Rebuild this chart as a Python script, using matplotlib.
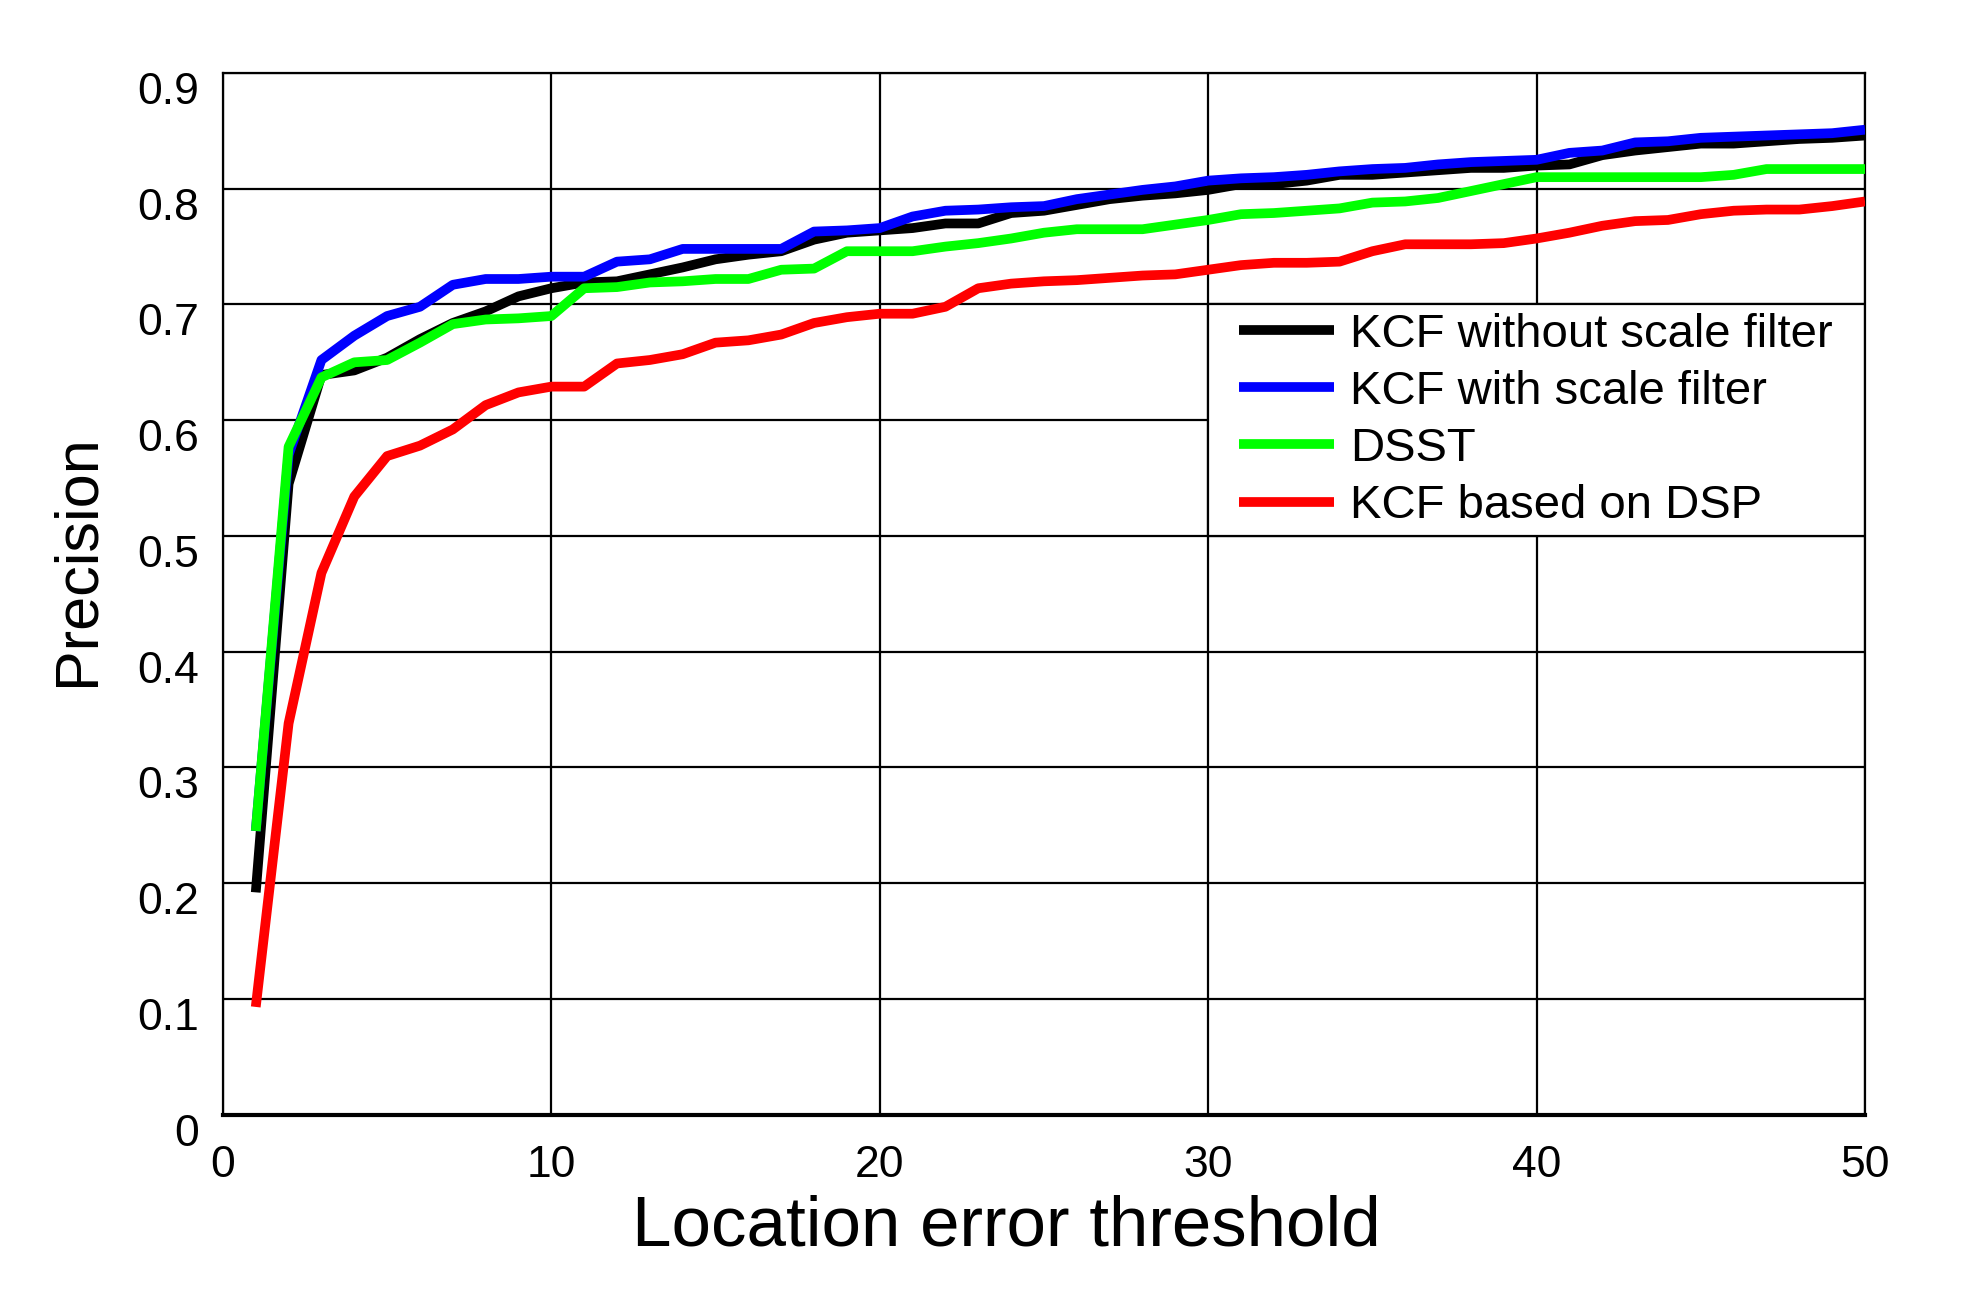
import matplotlib
matplotlib.use("Agg")
import matplotlib.pyplot as plt
import matplotlib.transforms as mtransforms
from matplotlib.patches import Rectangle

plt.rcParams['font.family'] = ['Liberation Sans', 'DejaVu Sans']

thresholds = list(range(1, 51))

kcf_no_scale = [0.192, 0.545, 0.639, 0.643, 0.654, 0.670, 0.684, 0.694, 0.707, 0.714,
                0.719, 0.720, 0.726, 0.732, 0.739, 0.743, 0.746, 0.756, 0.762, 0.764,
                0.766, 0.770, 0.770, 0.779, 0.781, 0.786, 0.791, 0.794, 0.796, 0.799,
                0.804, 0.804, 0.807, 0.812, 0.812, 0.814, 0.816, 0.818, 0.818, 0.820,
                0.821, 0.829, 0.833, 0.836, 0.839, 0.839, 0.841, 0.843, 0.844, 0.846]

kcf_scale = [0.245, 0.570, 0.652, 0.673, 0.690, 0.698, 0.717, 0.722, 0.722, 0.724,
             0.724, 0.737, 0.739, 0.748, 0.748, 0.748, 0.748, 0.763, 0.764, 0.766,
             0.776, 0.781, 0.782, 0.784, 0.785, 0.791, 0.795, 0.799, 0.802, 0.807,
             0.809, 0.810, 0.812, 0.815, 0.817, 0.818, 0.821, 0.823, 0.824, 0.825,
             0.831, 0.833, 0.840, 0.841, 0.844, 0.845, 0.846, 0.847, 0.848, 0.851]

dsst = [0.245, 0.577, 0.637, 0.650, 0.652, 0.667, 0.683, 0.687, 0.688, 0.690,
        0.714, 0.715, 0.719, 0.720, 0.722, 0.722, 0.730, 0.731, 0.746, 0.746,
        0.746, 0.750, 0.753, 0.757, 0.762, 0.765, 0.765, 0.765, 0.769, 0.773,
        0.778, 0.779, 0.781, 0.783, 0.788, 0.789, 0.792, 0.798, 0.804, 0.810,
        0.810, 0.810, 0.810, 0.810, 0.810, 0.812, 0.817, 0.817, 0.817, 0.817]

kcf_dsp = [0.093, 0.338, 0.468, 0.534, 0.569, 0.578, 0.592, 0.613, 0.624, 0.629,
           0.629, 0.649, 0.652, 0.657, 0.667, 0.669, 0.674, 0.684, 0.689, 0.692,
           0.692, 0.698, 0.714, 0.718, 0.720, 0.721, 0.723, 0.725, 0.726, 0.730,
           0.734, 0.736, 0.736, 0.737, 0.746, 0.752, 0.752, 0.752, 0.753, 0.757,
           0.762, 0.768, 0.772, 0.773, 0.778, 0.781, 0.782, 0.782, 0.785, 0.789]

labels = ["KCF without scale filter", "KCF with scale filter", "DSST", "KCF based on DSP"]
colors = ["#000000", "#0000ff", "#00ff00", "#ff0000"]
series = [kcf_no_scale, kcf_scale, dsst, kcf_dsp]

x_ticks = [0, 10, 20, 30, 40, 50]
y_ticks = [0, 0.1, 0.2, 0.3, 0.4, 0.5, 0.6, 0.7, 0.8, 0.9]
y_ticklabels = ["0", "0.1", "0.2", "0.3", "0.4", "0.5", "0.6", "0.7", "0.8", "0.9"]

fig = plt.figure(figsize=(19.64, 12.99), dpi=100)
ax = fig.add_axes([0.1135, 0.142, 0.8361, 0.8018])

for vals, c, lab in zip(series, colors, labels):
    ax.plot(thresholds, vals, color=c, lw=7, label=lab, solid_capstyle='butt', zorder=3)

ax.set_xlim(0, 50)
ax.set_ylim(0, 0.9)
ax.set_xticks(x_ticks)
ax.set_yticks(y_ticks)
ax.set_yticklabels(y_ticklabels)
ax.tick_params(axis='both', length=0, labelsize=32)
ax.tick_params(axis='x', pad=22)
ax.tick_params(axis='y', pad=17)
offset = mtransforms.ScaledTranslation(0, -15 / 100, fig.dpi_scale_trans)
for lbl in ax.get_yticklabels():
    lbl.set_transform(lbl.get_transform() + offset)

ax.grid(True, color='black', lw=1.6, zorder=1)
ax.set_axisbelow(True)
for s in ['left', 'top', 'right']:
    ax.spines[s].set_linewidth(1.6)
ax.spines['bottom'].set_linewidth(3)

ax.set_xlabel("Location error threshold", fontsize=51)
ax.xaxis.set_label_coords(0.477, -0.108, transform=ax.transAxes)
ax.xaxis.label.set_va('center')
ax.set_ylabel("Precision", fontsize=44)
ax.yaxis.set_label_coords(-0.088, 0.532, transform=ax.transAxes)
ax.yaxis.label.set_va('center')

# legend box
box = Rectangle((30, 0.5), 20, 0.2, facecolor='white', edgecolor='black',
                lw=1.6, zorder=2)
ax.add_patch(box)
leg = ax.legend(loc='upper left', bbox_to_anchor=(30.95, 0.693), bbox_transform=ax.transData,
                frameon=False, fontsize=34, handlelength=2.0, handletextpad=0.35,
                labelspacing=0.28, borderaxespad=0, borderpad=0)
leg.set_zorder(4)
for h in leg.get_lines():
    h.set_linewidth(7)

fig.savefig("out.png", dpi=100, facecolor='white')
